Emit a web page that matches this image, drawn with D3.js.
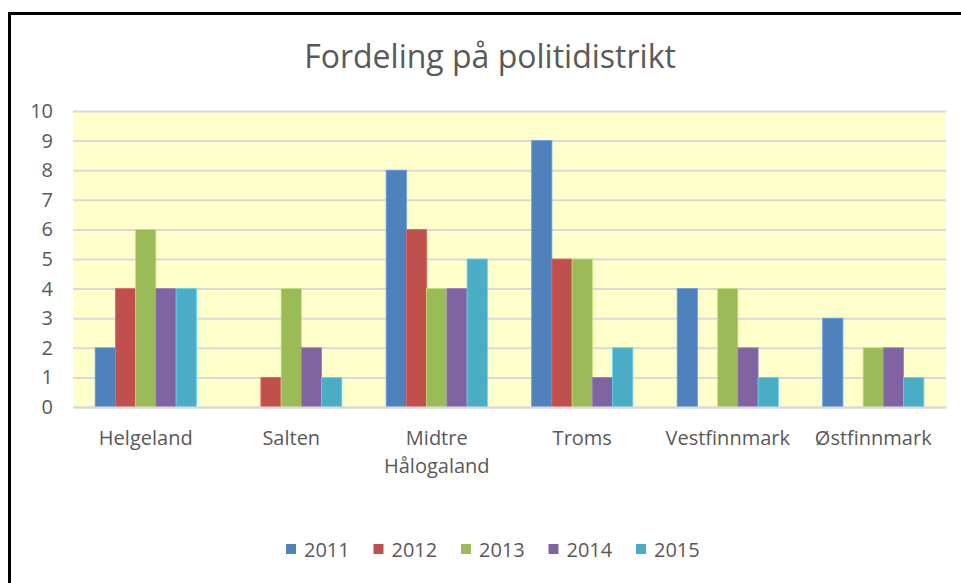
<!DOCTYPE html>
<html><head><meta charset="utf-8">
<script src="https://cdn.jsdelivr.net/npm/d3@7"></script>
<style>body{margin:0;background:#fff}svg{display:block;font-family:"Open Sans",sans-serif}</style>
</head><body><svg id="c" width="961" height="583"></svg>
<script>
const categories = [["Helgeland"], ["Salten"], ["Midtre", "Hålogaland"], ["Troms"], ["Vestfinnmark"], ["Østfinnmark"]];
const years = ["2011", "2012", "2013", "2014", "2015"];
const v2011 = [2, 0, 8, 9, 4, 3];
const v2012 = [4, 1, 6, 5, 0, 0];
const v2013 = [6, 4, 4, 5, 4, 2];
const v2014 = [4, 2, 4, 1, 2, 2];
const v2015 = [4, 1, 5, 2, 1, 1];
const yTicks = [0,1,2,3,4,5,6,7,8,9,10];
const title = "Fordeling på politidistrikt";
const colors = ["#4F81BD", "#C0504D", "#9BBB59", "#8064A2", "#4BACC6"];
const series = [v2011, v2012, v2013, v2014, v2015];

const svg = d3.select("#c");
const L = 73, R = 946, T = 111, B = 407;
const catKeys = categories.map(c => c.join(" "));
const x0 = d3.scaleBand().domain(catKeys).range([L, R]);
const gapRatio = 2.19;
const bw = x0.bandwidth() / (5 + gapRatio);
const x1 = d3.scaleBand().domain(years).range([bw*gapRatio/2, x0.bandwidth() - bw*gapRatio/2]).padding(0);
const y = d3.scaleLinear().domain([0, 10]).range([B, T]);

// frame
svg.append("path").attr("d", `M9.5,600 L9.5,13.5 L970,13.5`).attr("fill","none").attr("stroke","#000").attr("stroke-width",3);

svg.append("text").attr("x", 490).attr("y", 68).attr("text-anchor","middle")
  .attr("font-size", 32).attr("fill","#595959").text(title);

svg.append("rect").attr("x", L).attr("y", T).attr("width", R-L).attr("height", B-T).attr("fill","#FFFFCC");

const ya = svg.append("g").attr("transform",`translate(${L},0)`)
  .call(d3.axisLeft(y).tickValues(yTicks).tickSize(-(R-L)).tickPadding(20).tickFormat(d3.format("d")));
ya.select(".domain").remove();
ya.selectAll(".tick line").attr("stroke","#D9D9D9").attr("stroke-width",2);
ya.selectAll(".tick text").attr("font-size",20).attr("fill","#595959").attr("font-family","Open Sans, sans-serif");

const g = svg.append("g");
categories.forEach((c, i) => {
  years.forEach((yr, j) => {
    const v = series[j][i];
    if (v <= 0) return;
    g.append("rect").attr("x", x0(catKeys[i]) + x1(yr)).attr("y", y(v))
      .attr("width", x1.bandwidth()).attr("height", y(0) - y(v))
      .attr("fill", colors[j]).attr("stroke", d3.color(colors[j]).brighter(0.6)).attr("stroke-width", 0.8);
  });
});

const xa = svg.append("g").attr("transform",`translate(0,${B})`).call(d3.axisBottom(x0).tickSize(0).tickFormat(""));
xa.select(".domain").attr("stroke","#D9D9D9").attr("stroke-width",2);
xa.selectAll(".tick").each(function(d, i){
  const t = d3.select(this).append("text").attr("fill","#595959").attr("font-size",20)
    .attr("text-anchor","middle").attr("font-family","Open Sans, sans-serif");
  categories[i].forEach((line, k) => t.append("tspan").attr("x", 0).attr("y", 38 + k*28).text(line));
});

const lg = svg.append("g");
years.forEach((yr, j) => {
  const gx = 286 + j*87.5;
  lg.append("rect").attr("x", gx).attr("y", 544).attr("width", 10).attr("height", 10).attr("fill", colors[j]);
  lg.append("text").attr("x", gx + 18).attr("y", 556.5).attr("font-size", 20).attr("fill","#595959").text(yr);
});
</script></body></html>
